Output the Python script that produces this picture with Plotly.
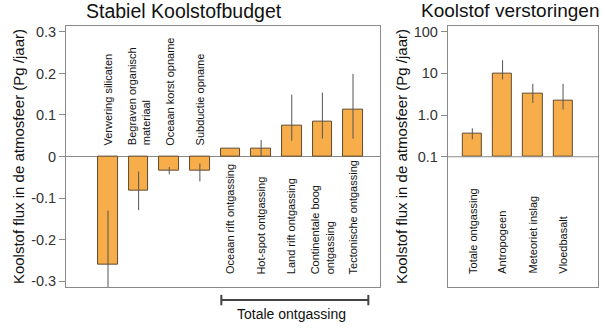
import plotly.graph_objects as go

# ---------------- data ----------------
budget_labels = ["Verwering silicaten", "Begraven organisch<br>materiaal", "Oceaan korst opname",
                 "Subductie opname", "Oceaan rift ontgassing", "Hot-spot ontgassing",
                 "Land rift ontgassing", "Continentale boog<br>ontgassing", "Tectonische ontgassing"]
budget_values = [-0.26, -0.081, -0.033, -0.033, 0.019, 0.019, 0.075, 0.085, 0.113]
budget_err_plus = [0.13, 0.045, 0.008, 0.016, 0.0, 0.021, 0.074, 0.069, 0.086]
budget_err_minus = [0.13, 0.048, 0.010, 0.027, 0.0, 0.019, 0.037, 0.042, 0.070]

dist_labels = ["Totale ontgassing", "Antropogeen", "Meteoriet inslag", "Vloedbasalt"]
dist_values = [0.36, 10.0, 3.2, 2.24]
dist_upper = [0.48, 20.5, 5.6, 5.6]
dist_lower = [0.26, 7.1, 1.95, 1.35]
DIST_BASE = 0.1

left_ticks = [0.3, 0.2, 0.1, 0, -0.1, -0.2, -0.3]
left_ticktext = ["0.3", "0.2", "0.1", "0", "-0.1", "-0.2", "-0.3"]
right_ticks = [100, 10, 1, 0.1]
right_ticktext = ["100", "10", "1.0", "0.1"]

# ---------------- style ----------------
BAR = "#F7AE4A"
EDGE = "#5E4A30"
ERR = "#555555"
AX = "#8A8A8A"
FONT = "Liberation Sans, Arial, sans-serif"

xl = list(range(1, len(budget_values) + 1))
xr = list(range(1, len(dist_values) + 1))

fig = go.Figure()
fig.add_trace(go.Bar(
    x=xl, y=budget_values, width=0.64, xaxis="x", yaxis="y",
    marker=dict(color=BAR, line=dict(color=EDGE, width=1)),
    error_y=dict(type="data", symmetric=False, array=budget_err_plus,
                 arrayminus=budget_err_minus, color=ERR, thickness=1, width=0),
    showlegend=False, hoverinfo="skip"))

fig.add_trace(go.Bar(
    x=xr, y=[v - DIST_BASE for v in dist_values], base=DIST_BASE, width=0.64,
    xaxis="x2", yaxis="y2",
    marker=dict(color=BAR, line=dict(color=EDGE, width=1)),
    showlegend=False, hoverinfo="skip"))
fig.add_trace(go.Scatter(
    x=xr, y=dist_values, mode="markers", marker=dict(opacity=0, size=1),
    xaxis="x2", yaxis="y2",
    error_y=dict(type="data", symmetric=False,
                 array=[u - v for u, v in zip(dist_upper, dist_values)],
                 arrayminus=[v - l for v, l in zip(dist_values, dist_lower)],
                 color=ERR, thickness=1, width=0),
    showlegend=False, hoverinfo="skip"))

ann = []
for i, (lab, v) in enumerate(zip(budget_labels, budget_values)):
    if v < 0:
        ann.append(dict(x=xl[i], y=0, xref="x", yref="y", yanchor="bottom", yshift=9,
                        text=lab, textangle=-90, showarrow=False, align="left",
                        font=dict(size=11, color="#111", family=FONT)))
    else:
        ann.append(dict(x=xl[i], y=0.042, xref="x", yref="y domain", yanchor="bottom",
                        text=lab, textangle=-90, showarrow=False, align="left",
                        font=dict(size=11, color="#111", family=FONT)))
for i, lab in enumerate(dist_labels):
    ann.append(dict(x=xr[i], y=0.045, xref="x2", yref="y2 domain", yanchor="bottom",
                    text=lab, textangle=-90, showarrow=False, align="left",
                    font=dict(size=11, color="#111", family=FONT)))

ann += [
    dict(x=0.377, y=1.0, xref="x domain", yref="paper", yanchor="top", yshift=4,
         text="Stabiel Koolstofbudget", showarrow=False,
         font=dict(size=19.5, color="#111", family=FONT)),
    dict(x=0.42, y=1.0, xref="x2 domain", yref="paper", yanchor="top", yshift=4,
         text="Koolstof verstoringen", showarrow=False,
         font=dict(size=19, color="#111", family=FONT)),
    dict(x=(5 + 9) / 2, y=0, xref="x", yref="paper", yanchor="bottom", yshift=2,
         text="Totale ontgassing", showarrow=False,
         font=dict(size=14, color="#111", family=FONT)),
]

shapes = [
    dict(type="line", xref="x", yref="paper", x0=4.7, x1=9.5, y0=0.08, y1=0.08,
         line=dict(color="#444", width=2)),
    dict(type="line", xref="x", yref="paper", x0=4.7, x1=4.7, y0=0.064, y1=0.096,
         line=dict(color="#444", width=2)),
    dict(type="line", xref="x", yref="paper", x0=9.5, x1=9.5, y0=0.064, y1=0.096,
         line=dict(color="#444", width=2)),
    dict(type="line", xref="x2 domain", yref="y2", x0=0, x1=1, y0=0.1, y1=0.1,
         line=dict(color=AX, width=1)),
]

ytitle = "Koolstof flux in de atmosfeer (Pg /jaar)"
fig.update_layout(
    width=606, height=328, margin=dict(l=0, r=0, t=0, b=0),
    paper_bgcolor="white", plot_bgcolor="white",
    font=dict(family=FONT, color="#222"),
    bargap=0,
    xaxis=dict(domain=[0.109, 0.627], range=[-0.37, 9.88], showticklabels=False,
               ticks="", showgrid=False, zeroline=False, showline=True,
               linecolor=AX, linewidth=1, mirror=True, anchor="y"),
    yaxis=dict(domain=[0.119, 0.927], range=[-0.315, 0.315], tickvals=left_ticks,
               ticktext=left_ticktext, ticks="outside", ticklen=6, tickcolor=AX,
               tickfont=dict(size=14.5, color="#333"), showgrid=False,
               zeroline=True, zerolinecolor=AX, zerolinewidth=1,
               showline=True, linecolor=AX, linewidth=1, mirror=True,
               title=dict(text=ytitle, font=dict(size=15, color="#111"), standoff=2),
               anchor="x"),
    xaxis2=dict(domain=[0.739, 0.987], range=[0.19, 5.16], showticklabels=False,
                ticks="", showgrid=False, zeroline=False, showline=True,
                linecolor=AX, linewidth=1, mirror=True, anchor="y2"),
    yaxis2=dict(domain=[0.119, 0.927], type="log", range=[-4.13, 2.14],
                tickvals=right_ticks, ticktext=right_ticktext, ticks="outside",
                ticklen=6, tickcolor=AX, tickfont=dict(size=14.5, color="#333"),
                showgrid=False, zeroline=False, showline=True, linecolor=AX,
                linewidth=1, mirror=True,
                title=dict(text=ytitle, font=dict(size=15, color="#111"), standoff=2),
                anchor="x2"),
    annotations=ann, shapes=shapes,
)

fig.write_html("out.html")
